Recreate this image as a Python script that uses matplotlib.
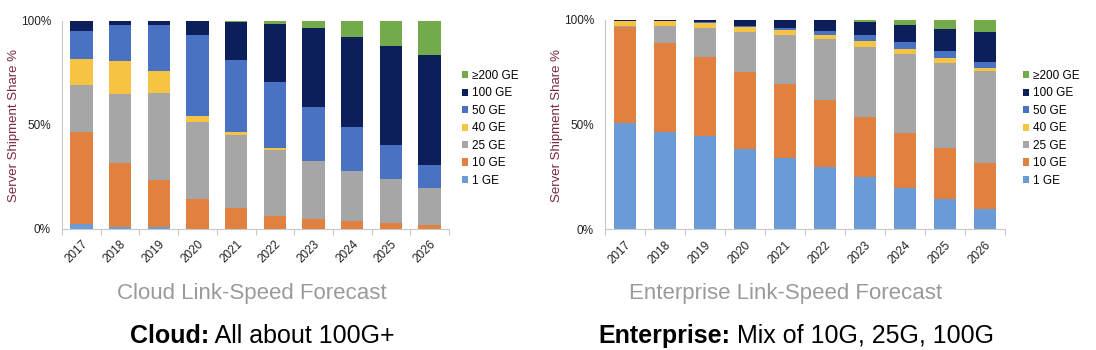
import matplotlib
matplotlib.use("Agg")
import matplotlib.pyplot as plt
from matplotlib.patches import Patch
import numpy as np

plt.rcParams['font.family'] = ['Liberation Sans', 'DejaVu Sans']

years = ['2017', '2018', '2019', '2020', '2021', '2022', '2023', '2024', '2025', '2026']
series = ['1 GE', '10 GE', '25 GE', '40 GE', '50 GE', '100 GE', '≥200 GE']
colors = ['#6a9bd6', '#e0813f', '#a6a6a6', '#f6c343', '#4a72c2', '#0c1f5a', '#74ab4a']

# Cloud shares (%)
cloud_1ge   = [2.2, 1.0, 1.0, 0.0, 0.0, 0.0, 0.0, 0.0, 0.0, 0.0]
cloud_10ge  = [44.4, 30.6, 22.2, 14.1, 10.1, 6.1, 4.8, 3.5, 2.7, 1.9]
cloud_25ge  = [22.6, 33.1, 41.9, 37.2, 35.1, 31.7, 27.7, 24.2, 21.2, 17.8]
cloud_40ge  = [12.5, 15.7, 10.7, 2.9, 1.4, 0.8, 0.0, 0.0, 0.0, 0.0]
cloud_50ge  = [13.2, 17.4, 22.3, 39.1, 34.3, 31.8, 26.2, 21.3, 16.3, 10.7]
cloud_100ge = [5.1, 2.2, 1.9, 6.7, 18.6, 27.9, 37.8, 43.1, 47.7, 52.9]
cloud_200ge = [0.0, 0.0, 0.0, 0.0, 0.5, 1.6, 3.5, 7.9, 12.1, 16.7]

# Enterprise shares (%)
ent_1ge   = [50.6, 46.5, 44.7, 38.5, 34.2, 29.8, 24.7, 19.4, 14.3, 9.6]
ent_10ge  = [46.1, 42.4, 37.8, 36.8, 35.4, 31.7, 28.8, 26.5, 24.6, 21.8]
ent_25ge  = [0.4, 8.4, 13.7, 19.0, 23.1, 29.3, 33.8, 37.9, 40.6, 44.2]
ent_40ge  = [2.6, 2.1, 2.4, 2.5, 2.5, 2.2, 2.8, 2.3, 2.3, 1.3]
ent_50ge  = [0.0, 0.0, 0.4, 0.5, 1.0, 1.7, 2.6, 3.2, 3.4, 3.0]
ent_100ge = [0.3, 0.6, 1.0, 2.7, 3.8, 5.3, 6.3, 8.3, 10.7, 14.2]
ent_200ge = [0.0, 0.0, 0.0, 0.0, 0.0, 0.0, 1.0, 2.4, 4.1, 6.1]

cloud = [cloud_1ge, cloud_10ge, cloud_25ge, cloud_40ge, cloud_50ge, cloud_100ge, cloud_200ge]
ent = [ent_1ge, ent_10ge, ent_25ge, ent_40ge, ent_50ge, ent_100ge, ent_200ge]

W, H = 1096, 350
fig = plt.figure(figsize=(W / 100, H / 100), dpi=100)


def px_axes(x0, x1, ytop, ybot):
    return fig.add_axes([x0 / W, (H - ybot) / H, (x1 - x0) / W, (ybot - ytop) / H])


def draw(ax, data, bw):
    x = np.arange(len(years))
    bottom = np.zeros(len(years))
    for vals, c in zip(data, colors):
        v = np.array(vals)
        ax.bar(x, v, bw, bottom=bottom, color=c, edgecolor='none', zorder=2)
        bottom += v
    ax.set_xlim(-0.5, len(years) - 0.5)
    ax.set_ylim(0, 100)
    ax.set_yticks([0, 50, 100])
    ax.set_yticklabels(['0%', '50%', '100%'], fontsize=8.5, color='#222222')
    ax.tick_params(axis='y', length=0, pad=8)
    ax.set_xticks(x)
    ax.set_xticklabels(years, rotation=45, ha='right', va='top',
                       rotation_mode='anchor', fontsize=8.5, color='#222222')
    ax.tick_params(axis='x', which='major', length=0, pad=7)
    ax.set_xticks(np.arange(-0.5, len(years), 1.0), minor=True)
    ax.tick_params(axis='x', which='minor', length=4, color='#c8c8c8', width=0.8)
    for s in ['top', 'right']:
        ax.spines[s].set_visible(False)
    for s in ['left', 'bottom']:
        ax.spines[s].set_color('#c8c8c8')
        ax.spines[s].set_linewidth(0.8)


ax1 = px_axes(62, 449, 20.7, 228.7)
draw(ax1, cloud, 0.58)
ax2 = px_axes(605, 1005, 20, 229)
draw(ax2, ent, 0.57)

for lx in (14, 557):
    fig.text(lx / W, 1 - 126 / H, 'Server Shipment Share %', rotation=90, ha='center',
             va='center', fontsize=9.5, color='#7a2a3a')

handles = [Patch(facecolor=c, edgecolor='none') for c in colors][::-1]
labels = series[::-1]
for lx in (462, 1023):
    fig.legend(handles, labels, loc='upper left', bbox_to_anchor=(lx / W, (H - 70) / H),
               frameon=False, fontsize=8.5, handlelength=0.55, handleheight=0.55,
               handletextpad=0.3, labelspacing=0.46, borderaxespad=0, borderpad=0)

fig.text(251.5 / W, 1 - 294 / H, 'Cloud Link-Speed Forecast', ha='center', va='center',
         fontsize=16, color='#9a9a9a')
fig.text(785.5 / W, 1 - 294 / H, 'Enterprise Link-Speed Forecast', ha='center', va='center',
         fontsize=16, color='#9a9a9a')

fig.canvas.draw()
renderer = fig.canvas.get_renderer()


def two_part(cx, cy, bold, rest, size=18):
    t1 = fig.text(0, 1 - cy / H, bold, fontsize=size, fontweight='bold', va='center', ha='left', color='black')
    t2 = fig.text(0, 1 - cy / H, rest, fontsize=size, va='center', ha='left', color='black')
    w1 = t1.get_window_extent(renderer).width
    w2 = t2.get_window_extent(renderer).width
    x0 = cx - (w1 + w2) / 2
    t1.set_x(x0 / W)
    t2.set_x((x0 + w1) / W)


two_part(262.5, 336, 'Cloud:', ' All about 100G+')
two_part(796, 336, 'Enterprise:', ' Mix of 10G, 25G, 100G')

fig.savefig('out.png', dpi=100)
